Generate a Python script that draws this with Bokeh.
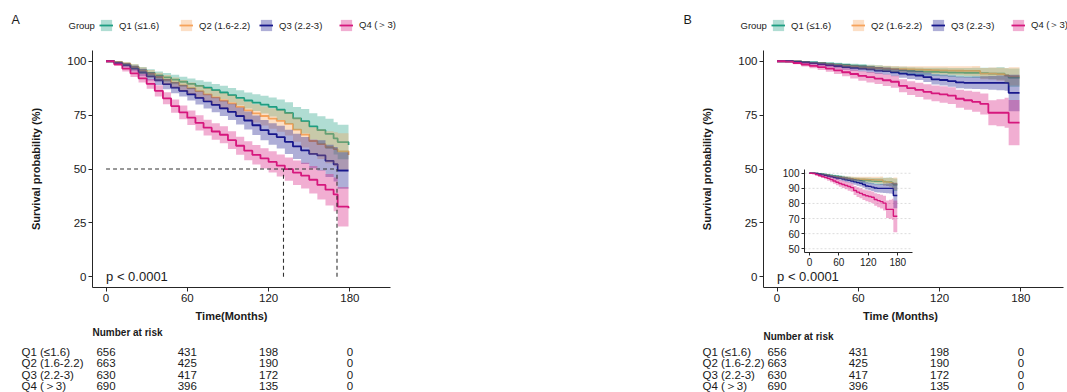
from bokeh.plotting import figure
from bokeh.layouts import row
from bokeh.models import Range1d, LinearAxis, FixedTicker, Legend, LegendItem, Label
from bokeh.embed import file_html
from bokeh.resources import INLINE
from bokeh.core.properties import value

FONT = "Liberation Sans"
TXT = "#1a1a1a"
AXC = "#262626"

# ---------------- data ----------------
groups = ["Q1 (≤1.6)", "Q2 (1.6-2.2)", "Q3 (2.2-3)", "Q4 (＞3)"]
colors = ["#1E9E82", "#F6A35C", "#17178C", "#D6187D"]

time_grid = [0, 6, 12, 18, 24, 30, 36, 42, 48, 54, 60, 66, 72, 78, 84, 90,
             96, 102, 108, 114, 120, 126, 132, 138, 144, 150, 156, 162, 168, 171, 179]

# Panel A survival (%)
A_surv_Q1 = [100, 99.5, 98.6, 97.4, 95.8, 94.6, 93.4, 92.5, 91.5, 90.5, 89.5, 88.6, 87.7, 86.6, 85.5, 84.3,
             83.0, 81.8, 80.8, 79.9, 78.8, 77.5, 76.0, 73.5, 72.2, 69.8, 68.0, 66.3, 64.2, 62.5, 61.1]
A_surv_Q2 = [100, 99.6, 98.8, 97.3, 95.6, 94.2, 92.7, 91.4, 90.1, 88.8, 87.5, 86.1, 84.6, 83.2, 81.8, 80.5,
             78.8, 77.2, 75.8, 74.6, 73.4, 72.3, 70.9, 68.3, 66.0, 63.0, 61.5, 60.1, 59.2, 58.2, 56.5]
A_surv_Q3 = [100, 99.3, 98.2, 96.6, 94.8, 93.0, 91.2, 89.4, 87.8, 86.3, 84.7, 83.0, 81.4, 79.8, 78.2, 76.5,
             74.6, 72.5, 70.3, 68.0, 66.2, 64.8, 62.6, 60.5, 58.6, 57.0, 56.3, 53.8, 52.2, 49.3, 49.3]
A_surv_Q4 = [100, 98.6, 96.6, 94.4, 92.1, 89.5, 86.3, 82.8, 79.2, 76.3, 73.8, 71.4, 69.2, 67.4, 65.9, 63.4,
             60.8, 58.5, 56.6, 54.9, 53.3, 51.6, 49.9, 48.3, 46.9, 45.0, 42.6, 40.4, 38.2, 32.5, 31.8]
# Panel A confidence-band half widths (%)
A_ci_Q1 = [0, 0.5, 0.9, 1.2, 1.5, 1.7, 1.9, 2.0, 2.2, 2.3, 2.5, 2.6, 2.8, 2.9, 3.1, 3.3,
           3.5, 3.7, 3.9, 4.1, 4.4, 4.7, 5.0, 5.3, 5.7, 6.1, 6.5, 7.0, 7.5, 8.0, 8.5]
A_ci_Q2 = [0, 0.5, 0.9, 1.3, 1.6, 1.8, 2.0, 2.2, 2.4, 2.5, 2.7, 2.9, 3.0, 3.2, 3.4, 3.6,
           3.8, 4.0, 4.2, 4.4, 4.7, 5.0, 5.3, 5.6, 6.0, 6.4, 6.9, 7.4, 7.9, 8.4, 9.0]
A_ci_Q3 = [0, 0.6, 1.0, 1.4, 1.7, 1.9, 2.2, 2.4, 2.6, 2.7, 2.9, 3.1, 3.3, 3.5, 3.6, 3.8,
           4.0, 4.2, 4.5, 4.7, 5.0, 5.3, 5.6, 5.9, 6.3, 6.7, 7.1, 7.5, 8.0, 8.5, 9.0]
A_ci_Q4 = [0, 0.8, 1.3, 1.7, 2.0, 2.3, 2.6, 2.8, 3.1, 3.2, 3.4, 3.5, 3.7, 3.8, 3.9, 4.1,
           4.2, 4.4, 4.5, 4.7, 4.9, 5.1, 5.4, 5.7, 6.0, 6.4, 6.8, 7.3, 7.8, 9.2, 9.5]
A_median_times = [131, 170.5]
median_level = 50

# Panel B survival (%)
B_surv_Q1 = [100, 100, 99.9, 99.7, 99.5, 99.2, 98.9, 98.6, 98.3, 98.0, 97.7, 97.3, 96.9, 96.5, 96.2, 95.9,
             95.6, 95.4, 95.2, 95.1, 95.0, 94.8, 94.7, 94.6, 94.6, 94.5, 94.3, 94.3, 93.5, 92.4, 92.4]
B_surv_Q2 = [100, 100, 99.9, 99.6, 99.3, 99.0, 98.6, 98.2, 97.8, 97.5, 97.2, 97.0, 96.8, 96.6, 96.4, 96.3,
             96.2, 96.1, 96.0, 95.9, 95.8, 95.7, 95.6, 95.5, 95.5, 94.3, 94.3, 94.0, 93.5, 93.0, 93.0]
B_surv_Q3 = [100, 100, 99.8, 99.5, 99.1, 98.7, 98.2, 97.8, 97.3, 96.9, 96.6, 96.2, 95.7, 95.4, 94.9, 94.3,
             93.8, 93.4, 92.6, 91.6, 91.3, 90.8, 90.2, 90.0, 90.0, 90.0, 90.0, 90.0, 90.0, 85.3, 85.3]
B_surv_Q4 = [100, 99.8, 99.2, 98.5, 97.9, 97.3, 96.6, 95.8, 94.9, 94.1, 93.2, 92.6, 91.9, 91.2, 90.5, 88.6,
             87.5, 86.7, 85.8, 85.1, 84.6, 84.1, 82.6, 81.9, 81.2, 80.2, 76.1, 76.1, 76.1, 71.5, 71.5]
B_ci_Q1 = [0, 0.05, 0.1, 0.3, 0.4, 0.5, 0.6, 0.7, 0.8, 0.9, 1.0, 1.1, 1.2, 1.3, 1.4, 1.5,
           1.6, 1.7, 1.8, 1.9, 2.0, 2.1, 2.2, 2.3, 2.4, 2.5, 2.7, 2.9, 3.3, 4.2, 4.5]
B_ci_Q2 = [0, 0.05, 0.1, 0.3, 0.4, 0.5, 0.6, 0.7, 0.8, 0.9, 1.0, 1.1, 1.2, 1.3, 1.4, 1.4,
           1.5, 1.6, 1.7, 1.8, 1.9, 2.0, 2.1, 2.2, 2.3, 2.6, 2.8, 3.0, 3.4, 4.2, 4.5]
B_ci_Q3 = [0, 0.1, 0.3, 0.5, 0.7, 0.9, 1.0, 1.1, 1.2, 1.3, 1.4, 1.5, 1.6, 1.7, 1.8, 1.9,
           2.0, 2.1, 2.2, 2.4, 2.5, 2.6, 2.7, 2.8, 2.9, 3.0, 3.2, 3.4, 3.7, 8.5, 8.8]
B_ci_Q4 = [0, 0.3, 0.6, 0.9, 1.1, 1.3, 1.5, 1.7, 1.9, 2.1, 2.2, 2.4, 2.5, 2.7, 2.8, 3.0,
           3.2, 3.3, 3.5, 3.6, 3.8, 3.9, 4.2, 4.4, 4.6, 4.9, 5.8, 6.3, 7.0, 10.5, 11.0]

# Number at risk
risk_times = [0, 60, 120, 180]
risk_Q1 = [656, 431, 198, 0]
risk_Q2 = [663, 425, 190, 0]
risk_Q3 = [630, 417, 172, 0]
risk_Q4 = [690, 396, 135, 0]

x_ticks = [0, 60, 120, 180]
y_ticks = [0, 25, 50, 75, 100]
inset_x_ticks = [0, 60, 120, 180]
inset_y_ticks = [50, 60, 70, 80, 90, 100]
pval_text = "p < 0.0001"

# ---------------- layout constants (pixels) ----------------
H = 392
A_W, B_W = 541, 526
PLOT_TOP, PLOT_BOTTOM = 50, 287
A_FX, A_FW = 92, 298
B_FX, B_FW = 222, 300
X_START, X_END = -10, 210
Y_LIM = (-5, 105)
PX_PER = A_FW / (X_END - X_START)
PY_PER = (PLOT_BOTTOM - PLOT_TOP) / (Y_LIM[1] - Y_LIM[0])
INSET_X_LIM = (-10, 210)
INSET_Y_LIM = (47.5, 102.5)
INSET_BOX = (263, 252, 108, 83)  # left px, bottom px, width, height (panel B)
RISK_ROWS_PX = [351, 362.5, 374, 385.5]


def style_axis(ax, size, tick_out=4):
    ax.axis_line_color = AXC
    ax.axis_line_width = 1
    ax.major_tick_line_color = AXC
    ax.major_tick_out = tick_out
    ax.major_tick_in = 0
    ax.minor_tick_line_color = None
    ax.major_label_text_font = FONT
    ax.major_label_text_font_size = size
    ax.major_label_text_color = TXT
    ax.major_label_standoff = 2


def draw_curves(p, surv, ci, lw, **kw):
    lines, bands = [], []
    for i in range(4):
        lines.append(p.step(x=time_grid, y=surv[i], mode="after", line_color=colors[i],
                            line_width=lw, **kw))
    for i in range(4):
        lo = [max(0.0, s - h) for s, h in zip(surv[i], ci[i])]
        hi = [min(100.0, s + h) for s, h in zip(surv[i], ci[i])]
        bands.append(p.varea_step(x=time_grid, y1=lo, y2=hi, step_mode="after",
                                  fill_color=colors[i], fill_alpha=0.35, **kw))
    return lines, bands


def build_panel(W, fx, fw, surv, ci, panel, xlabel, xlabel_px, legend_px, group_px,
                panel_px, label_px, header_py, medians=None, inset=False):
    x_end = X_START + fw / PX_PER
    xs = X_START - fx / PX_PER
    ys = Y_LIM[0] - (H - PLOT_BOTTOM) / PY_PER
    p = figure(width=W, height=H, x_range=Range1d(xs, xs + W / PX_PER),
               y_range=Range1d(ys, ys + H / PY_PER), x_axis_type=None, y_axis_type=None,
               output_backend="svg", toolbar_location=None, frame_align=False,
               min_border=0, min_border_left=0, min_border_right=0,
               min_border_top=0, min_border_bottom=0)
    p.outline_line_color = None

    def x_at(px):
        return xs + px / PX_PER

    def y_at(py):
        return ys + (H - py) / PY_PER

    yax = LinearAxis(fixed_location=X_START, bounds=Y_LIM, ticker=FixedTicker(ticks=y_ticks),
                     axis_label="Survival probability (%)")
    style_axis(yax, "11.5px")
    yax.axis_label_text_font = FONT
    yax.axis_label_text_font_size = "11px"
    yax.axis_label_text_font_style = "bold"
    yax.axis_label_text_color = TXT
    yax.axis_label_standoff = 22
    p.add_layout(yax, "left")
    xax = LinearAxis(fixed_location=Y_LIM[0], bounds=(X_START, x_end), ticker=FixedTicker(ticks=x_ticks))
    style_axis(xax, "11.5px")
    p.add_layout(xax, "below")

    lines, bands = draw_curves(p, surv, ci, 1.8)

    if medians is not None:
        p.segment(x0=[0], y0=[median_level], x1=[max(medians)], y1=[median_level],
                  line_color="#333333", line_width=1.1, line_dash="4 3")
        p.segment(x0=medians, y0=[0] * len(medians), x1=medians, y1=[median_level] * len(medians),
                  line_color="#333333", line_width=1.1, line_dash="4 3")

    p.text(x=[0], y=[0], text=[pval_text], text_font=value(FONT), text_font_size="13px",
           text_align="left", text_baseline="middle", text_color=TXT)

    if inset:
        il, ib, iw, ih = INSET_BOX
        ixp = iw / (INSET_X_LIM[1] - INSET_X_LIM[0])
        iyp = ih / (INSET_Y_LIM[1] - INSET_Y_LIM[0])
        ix0 = INSET_X_LIM[0] - il / ixp
        iy0 = INSET_Y_LIM[0] - (H - ib) / iyp
        p.extra_x_ranges = {"ix": Range1d(ix0, ix0 + W / ixp)}
        p.extra_y_ranges = {"iy": Range1d(iy0, iy0 + H / iyp)}
        n = len(inset_y_ticks)
        p.segment(x0=[INSET_X_LIM[0]] * n, x1=[INSET_X_LIM[1]] * n, y0=inset_y_ticks, y1=inset_y_ticks,
                  x_range_name="ix", y_range_name="iy", line_color="#D4D4D4", line_width=0.8,
                  line_dash="2 2")
        draw_curves(p, surv, ci, 1.4, x_range_name="ix", y_range_name="iy")
        iya = LinearAxis(x_range_name="ix", y_range_name="iy", fixed_location=INSET_X_LIM[0],
                         bounds=INSET_Y_LIM, ticker=FixedTicker(ticks=inset_y_ticks))
        style_axis(iya, "10px", 3)
        p.add_layout(iya, "left")
        ixa = LinearAxis(x_range_name="ix", y_range_name="iy", fixed_location=INSET_Y_LIM[0],
                         bounds=INSET_X_LIM, ticker=FixedTicker(ticks=inset_x_ticks))
        style_axis(ixa, "10px", 3)
        p.add_layout(ixa, "below")

    # legend row
    legend = Legend(items=[LegendItem(label=g, renderers=[bands[i], lines[i]]) for i, g in enumerate(groups)],
                    orientation="horizontal", location=(legend_px, H - 32),
                    glyph_width=14, glyph_height=14, label_standoff=6, label_width=60,
                    label_height=14, spacing=0, padding=0, margin=0,
                    border_line_color=None, background_fill_alpha=0,
                    label_text_font=FONT, label_text_font_size="9.5px", label_text_color=TXT)
    p.add_layout(legend)
    p.add_layout(Label(x=group_px, y=H - 25, x_units="screen", y_units="screen",
                       text="Group", text_font=FONT, text_font_size="9.5px", text_color=TXT,
                       text_baseline="middle"))
    p.add_layout(Label(x=panel_px, y=H - 19, x_units="screen", y_units="screen",
                       text=panel, text_font=FONT, text_font_size="12.5px", text_color=TXT,
                       text_baseline="middle"))
    # x axis title
    p.add_layout(Label(x=xlabel_px, y=H - 315, x_units="screen", y_units="screen",
                       text=xlabel, text_font=FONT, text_font_size="11px", text_font_style="bold",
                       text_color=TXT, text_align="center", text_baseline="middle"))

    # number-at-risk table
    p.text(x=[X_START], y=[y_at(header_py)], text=["Number at risk"], text_font=value(FONT),
           text_font_size="10px", text_font_style="bold", text_align="left",
           text_baseline="middle", text_color=TXT)
    row_y = [y_at(py) for py in RISK_ROWS_PX]
    p.text(x=[x_at(label_px)] * 4, y=row_y, text=groups, text_font=value(FONT),
           text_font_size="11.5px", text_align="left", text_baseline="middle", text_color=TXT)
    for k, counts in enumerate([risk_Q1, risk_Q2, risk_Q3, risk_Q4]):
        p.text(x=risk_times, y=[row_y[k]] * len(risk_times), text=[str(c) for c in counts],
               text_font=value(FONT), text_font_size="11.5px", text_align="center",
               text_baseline="middle", text_color=TXT)
    return p


pA = build_panel(A_W, A_FX, A_FW, [A_surv_Q1, A_surv_Q2, A_surv_Q3, A_surv_Q4],
                 [A_ci_Q1, A_ci_Q2, A_ci_Q3, A_ci_Q4], "A", "Time(Months)", 231,
                 99, 68, 11, 21, 332, medians=A_median_times)
pB = build_panel(B_W, B_FX, B_FW, [B_surv_Q1, B_surv_Q2, B_surv_Q3, B_surv_Q4],
                 [B_ci_Q1, B_ci_Q2, B_ci_Q3, B_ci_Q4], "B", "Time (Months)", 359,
                 230, 199, 142, 161, 336, inset=True)

layout = row(pA, pB)
open("out.html", "w").write(file_html(layout, INLINE))
